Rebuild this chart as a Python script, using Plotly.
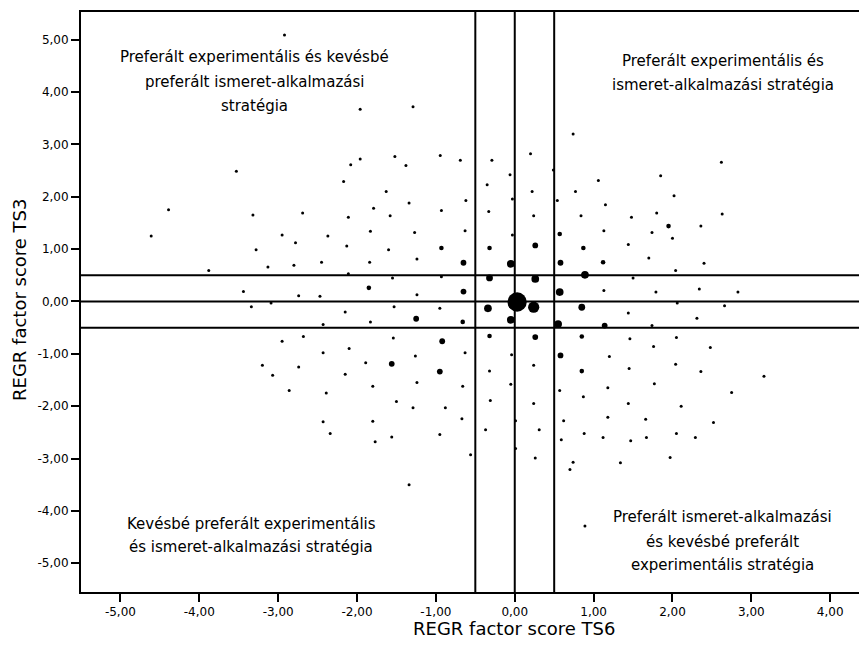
import plotly.graph_objects as go
import numpy as np

# Data (REGR factor scores)
ts6 = [-2.92, -3.53, -4.39, -3.32, -1.96, -1.29, 0.74, -1.96, -2.08, -1.52,
       -1.38, -0.945, -0.69, -0.29, 0.20, -0.06, 0.49, -2.17, -1.63, -1.34,
       -0.93, -0.62, -0.35, -0.03, 0.22, 0.77, 0.54, -2.69, -1.79, -2.11,
       -1.58, -0.33, 0.24, 2.62, 1.06, 1.85, 1.15, 2.02, 0.84, 1.48,
       1.80, 2.63, -4.61, -3.28, -2.95, -2.78, -3.13, -2.80, -3.88, -3.44,
       -3.34, -3.09, -2.74, -2.95, -3.20, -3.07, -2.74, -2.86, -2.37, -1.83,
       -1.27, -0.63, -0.03, 0.57, -2.13, -1.60, -0.93, -0.32, 0.26, -2.45,
       -1.84, -1.24, -0.65, -0.05, 0.58, -2.11, -1.55, -0.93, -0.32, 0.26,
       -2.47, -1.85, -1.24, -0.65, 0.03, 0.24, -0.34, 0.57, -1.53, -0.95,
       -2.15, -1.83, -1.25, -0.66, -0.05, 0.55, -2.43, -2.68, -1.54, -0.92,
       -0.32, 0.26, -2.43, -2.10, -1.26, -0.63, -0.04, 0.58, -1.89, -1.56,
       -0.95, -0.32, 0.24, -2.15, -1.24, -0.66, -0.05, 0.57, -2.39, -1.80,
       -1.50, -1.29, -0.88, -0.31, 0.24, -2.43, -1.80, -0.67, 0.01, 0.62,
       1.13, 1.74, 1.95, 2.36, 2.00, 0.87, 1.44, 1.12, 1.70, 2.40,
       0.89, 1.50, 2.04, 1.13, 1.79, 2.34, 2.83, 0.85, 2.06, 2.66,
       1.44, 1.14, 1.74, 2.31, 0.85, 1.46, 2.05, 1.76, 2.48, 1.20,
       2.04, 2.36, 0.85, 1.45, 3.16, 1.18, 1.77, 2.75, 0.87, 1.44,
       2.11, 1.18, 1.66, 2.52, -2.34, -1.77, -1.56, -0.95, -0.37, 0.01,
       0.31, 0.26, -0.56, -1.34, 0.59, 0.74, 0.70, 0.88, 1.12, 1.47,
       1.67, 2.05, 2.29, 1.34, 1.97, 0.89]
ts3 = [5.09, 2.49, 1.75, 1.65, 3.67, 3.72, 3.20, 2.72, 2.61, 2.77,
       2.60, 2.79, 2.70, 2.70, 2.82, 2.42, 2.51, 2.29, 2.10, 1.88,
       1.74, 1.93, 2.23, 1.96, 2.10, 2.10, 1.93, 1.69, 1.78, 1.61,
       1.64, 1.72, 1.64, 2.66, 2.31, 2.40, 1.85, 2.02, 1.64, 1.61,
       1.69, 1.67, 1.25, 0.99, 1.27, 1.12, 0.66, 0.69, 0.59, 0.19,
       -0.10, -0.03, 0.11, -0.76, -1.22, -1.41, -1.25, -1.70, 1.25, 1.34,
       1.32, 1.35, 1.27, 1.29, 1.06, 0.99, 1.02, 1.02, 1.07, 0.75,
       0.75, 0.81, 0.74, 0.72, 0.74, 0.53, 0.45, 0.47, 0.45, 0.43,
       0.10, 0.26, 0.13, 0.19, -0.01, -0.11, -0.13, 0.18, -0.10, -0.13,
       -0.20, -0.39, -0.33, -0.39, -0.35, -0.43, -0.44, -0.67, -0.70, -0.76,
       -0.66, -0.68, -0.98, -0.90, -1.04, -0.98, -1.02, -1.03, -1.17, -1.19,
       -1.34, -1.33, -1.22, -1.39, -1.55, -1.62, -1.58, -1.70, -1.75, -1.62,
       -1.91, -2.03, -2.03, -1.89, -1.95, -2.30, -2.29, -2.24, -2.28, -2.28,
       1.35, 1.32, 1.44, 1.44, 1.21, 1.02, 1.09, 0.75, 0.83, 0.73,
       0.51, 0.45, 0.59, 0.21, 0.18, 0.24, 0.18, -0.11, -0.03, -0.08,
       -0.22, -0.46, -0.46, -0.32, -0.67, -0.71, -0.69, -0.86, -0.88, -1.05,
       -1.20, -1.34, -1.33, -1.28, -1.43, -1.65, -1.57, -1.74, -1.82, -1.95,
       -2.00, -2.21, -2.25, -2.31, -2.52, -2.68, -2.59, -2.54, -2.45, -2.81,
       -2.45, -2.99, -2.93, -3.50, -2.64, -3.07, -3.21, -2.52, -2.60, -2.66,
       -2.60, -2.52, -2.60, -3.08, -2.98, -4.29]
counts = [1] * len(ts6)
big = {63: 2, 66: 2, 67: 2, 68: 3, 72: 3, 73: 5, 74: 3, 78: 4, 79: 5,
       81: 2, 83: 3, 84: 28, 85: 10, 86: 5, 87: 5, 92: 3, 93: 2, 94: 5,
       95: 5, 99: 3, 100: 2, 101: 3, 107: 3, 109: 3, 110: 3, 132: 2,
       135: 2, 137: 2, 140: 5, 147: 4, 151: 3, 154: 2, 162: 2}
for k, v in big.items():
    counts[k] = v

tick_vals = [-5, -4, -3, -2, -1, 0, 1, 2, 3, 4, 5]
tick_text = ["-5,00", "-4,00", "-3,00", "-2,00", "-1,00", "0,00",
             "1,00", "2,00", "3,00", "4,00", "5,00"]

sizes = [3 + 3.8 * (np.sqrt(c) - 1) for c in counts]

fig = go.Figure()
fig.add_trace(go.Scatter(
    x=ts6, y=ts3, mode="markers",
    marker=dict(color="black", size=sizes, symbol="circle", opacity=1,
                line=dict(width=0)),
    showlegend=False, hoverinfo="x+y"))

for v in (-0.5, 0, 0.5):
    fig.add_vline(x=v, line=dict(color="black", width=2))
    fig.add_hline(y=v, line=dict(color="black", width=2))

FONT = "DejaVu Sans"
axis_common = dict(
    showgrid=False, zeroline=False, showline=True, linecolor="black",
    linewidth=2, ticks="outside", ticklen=8, tickwidth=1.5,
    tickcolor="black", tickmode="array", automargin=False,
    tickfont=dict(family=FONT, size=12, color="black"),
)
fig.update_xaxes(range=[-5.5, 4.365], tickvals=tick_vals[:-1],
                 ticktext=tick_text[:-1], mirror=True, **axis_common)
fig.update_yaxes(range=[-5.55, 5.53], tickvals=tick_vals,
                 ticktext=tick_text, **axis_common)

H = 649
T, B = 12, 57
PH = H - T - B


def py(p):
    return (H - B - p) / PH


labels = [
    (254, 57, "Preferált experimentális és kevésbé"),
    (254, 82, "preferált ismeret-alkalmazási"),
    (254, 106, "stratégia"),
    (723, 61, "Preferált experimentális és"),
    (723, 85, "ismeret-alkalmazási stratégia"),
    (251, 524, "Kevésbé preferált experimentális"),
    (251, 547, "és ismeret-alkalmazási stratégia"),
    (722, 517, "Preferált ismeret-alkalmazási"),
    (722, 542, "és kevésbé preferált"),
    (722, 565, "experimentális stratégia"),
]
L = 81
PW = 859 - L
for x, y, t in labels:
    fig.add_annotation(x=(x - L) / PW, y=py(y), xref="paper", yref="paper",
                       text=t, showarrow=False, xanchor="center",
                       yanchor="middle",
                       font=dict(family=FONT, size=15, color="black"))

fig.add_annotation(x=(514 - L) / PW, y=py(628), xref="paper", yref="paper",
                   text="REGR factor score TS6", showarrow=False,
                   xanchor="center", yanchor="middle",
                   font=dict(family=FONT, size=18, color="black"))
fig.add_annotation(x=(19 - L) / PW, y=py(300), xref="paper", yref="paper",
                   text="REGR factor score TS3", showarrow=False,
                   textangle=-90, xanchor="center", yanchor="middle",
                   font=dict(family=FONT, size=18, color="black"))

fig.update_layout(
    width=859, height=649,
    margin=dict(l=L, r=0, t=T, b=B, autoexpand=False),
    paper_bgcolor="white", plot_bgcolor="white",
)
fig.write_html(
    "out.html",
    config={"displayModeBar": False},
    post_script="document.body.style.margin='0px';"
                "document.body.style.overflow='hidden';",
)
